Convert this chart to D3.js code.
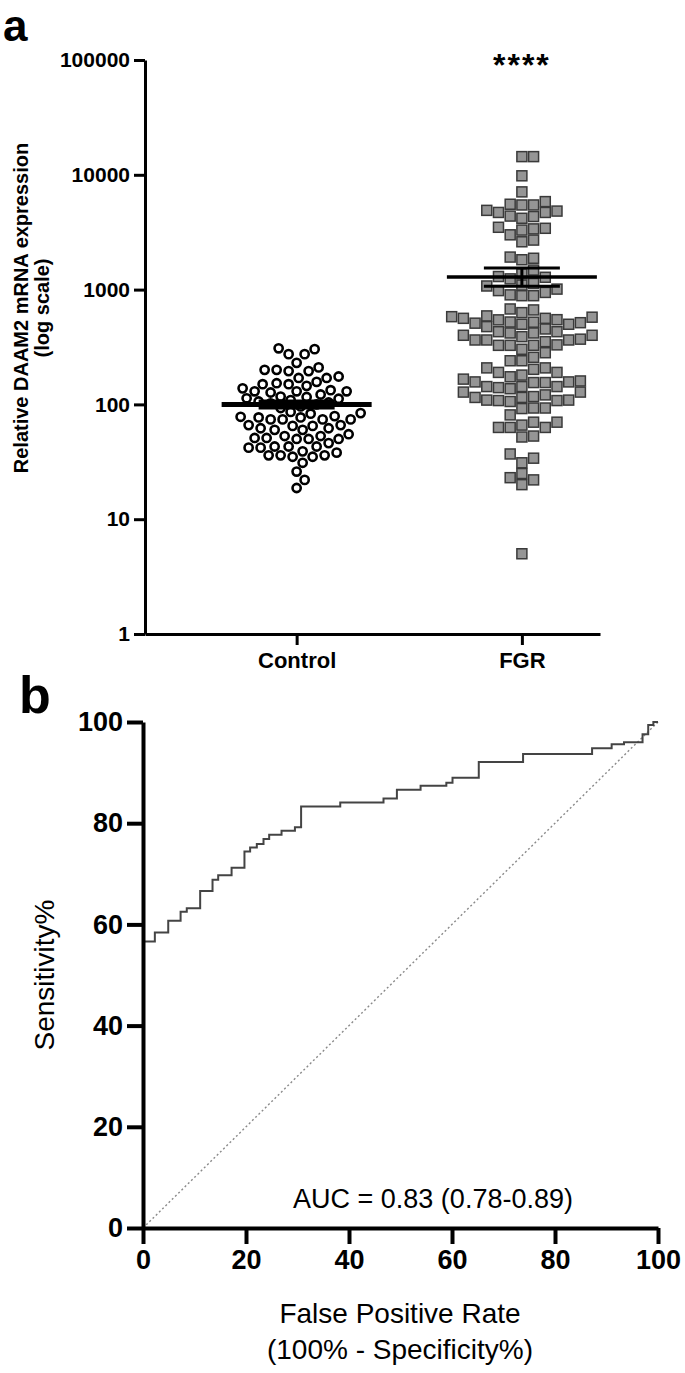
<!DOCTYPE html>
<html>
<head>
<meta charset="utf-8">
<script src="https://cdn.jsdelivr.net/npm/d3@7"></script>
<style>
  body { margin: 0; background: #fff; }
  svg { display: block; font-family: 'Liberation Sans', Arial, sans-serif; }
  .axis path, .axis line { stroke: #000; }
</style>
</head>
<body>
<script>
// ---- panel a data: relative DAAM2 expression
const groups = ['Control', 'FGR']
const logTicks = [1, 10, 100, 1000, 10000, 100000]

const controlValues = [
  308, 303, 274, 274, 230, 210, 195, 195, 200, 200,
  157, 153, 150, 170, 170, 175, 150, 145, 138, 130,
  133, 130, 130, 127, 122, 117, 112, 109, 104,
  113, 106, 116, 100, 96, 102, 93,
  84, 86, 78, 74, 74, 79, 83, 77, 74, 74, 77,
  65, 66, 60, 62, 66, 65, 60, 62,
  53, 53, 51, 50, 51, 50, 55, 50,
  43, 42, 43, 43, 42, 46, 39,
  35, 36, 31, 35, 36, 36, 38,
  26, 22, 18.7
]

const fgrValues = [
  14400, 14400, 9800, 7100,
  4830, 5460, 5460, 5540, 5840, 4700, 4900,
  4330, 4180, 4370, 4700,
  3420, 3000, 3380, 3300, 3490, 2700, 2610,
  1875, 1820, 1920, 1480, 1370, 1280, 1240, 1300,
  1075, 1095, 1130, 1010, 885, 885, 945, 900, 980,
  581, 678, 510, 499, 522, 547, 665, 520, 590, 575, 515, 630, 499, 562, 545, 562,
  419, 352, 400, 364, 430, 364, 476, 364, 454, 370, 430, 327, 400, 327, 389, 419, 330, 327,
  302, 282, 240, 208, 240, 257, 208, 202, 190, 180, 190,
  157, 157, 174, 160, 137, 155, 166, 143, 143, 143, 155, 128,
  128, 109, 140, 109, 106, 108, 92, 115, 93, 121, 115, 93, 108, 117, 81,
  63, 66, 70, 63, 63, 70, 52, 53,
  34, 37, 31, 23, 25, 20, 22, 5
]

// mean and SEM (low, high) per group
const groupMeans = [100, 1290]
const groupSem = [[93, 107], [1070, 1540]]

// ---- panel b data: ROC curve corners (step after)
const fpr = [0, 0, 2.3, 4.9, 7.3, 8.5, 11.1, 13.5, 14.6, 17.2, 19.7, 20.8, 22.1, 23.4, 24.5, 26.9, 29.5, 30.7,
  38.3, 46.7, 49.3, 53.9, 58.9, 60.1, 65.2, 73.8, 87.2, 91.0, 93.4, 97.0, 98.1, 99.1, 100]
const sensitivity = [0, 56.6, 58.4, 60.7, 62.5, 63.2, 66.6, 68.8, 69.7, 71.2, 74.4, 75.2, 75.9, 76.9, 77.7, 78.5, 79.2, 83.3,
  84.1, 84.9, 86.6, 87.4, 88.0, 89.0, 92.1, 93.7, 94.8, 95.6, 96.0, 97.6, 99.4, 100, 100]
const rocTicks = [0, 20, 40, 60, 80, 100]

const svg = d3.select('body').append('svg')
  .attr('width', 685)
  .attr('height', 1373)

// Spread points sideways so they don't sit on top of each other
function swarm(values, cx, y, step, size, round) {
  const placed = []
  const items = values.map(v => ({ v, y: y(v) })).sort((a, b) => a.v - b.v)
  items.forEach(p => {
    for (let k = 0; k < 400; k++) {
      const dx = k === 0 ? 0 : (k % 2 ? 1 : -1) * Math.ceil(k / 2) * step
      const hit = placed.some(q => round
        ? Math.hypot(q.dx - dx, q.y - p.y) < size
        : Math.abs(q.dx - dx) < size && Math.abs(q.y - p.y) < size)
      if (!hit) { p.dx = dx; break }
    }
    placed.push(p)
  })
  return items.map(p => ({ v: p.v, y: p.y, x: cx + p.dx }))
}

function drawPanelA() {
  const yScale = d3.scaleLog().domain([1, 100000]).range([634, 60])
  const xScale = d3.scalePoint().domain(groups).range([145, 600]).padding(0.51).align(0.66)

  // panel letter
  svg.append('text')
    .attr('x', 3).attr('y', 41)
    .style('font-size', '44px').style('font-weight', 'bold')
    .text('a')

  // Y axis
  const yAxis = svg.append('g')
    .attr('class', 'axis')
    .attr('transform', 'translate(145,0)')
    .call(d3.axisLeft(yScale).tickValues(logTicks).tickFormat(d3.format('d')).tickSize(11).tickSizeOuter(0).tickPadding(4))
  yAxis.select('.domain').attr('stroke-width', 3)
  yAxis.selectAll('.tick line').attr('stroke-width', 3)
  yAxis.selectAll('.tick text')
    .style('font-size', '21px').style('font-weight', 'bold').attr('fill', '#000')

  // X axis
  const xAxis = svg.append('g')
    .attr('class', 'axis')
    .attr('transform', 'translate(0,634)')
    .call(d3.axisBottom(xScale).tickSize(11).tickSizeOuter(0).tickPadding(7))
  xAxis.select('.domain').attr('stroke-width', 3)
  xAxis.selectAll('.tick line').attr('stroke-width', 3)
  xAxis.selectAll('.tick text')
    .style('font-size', '22px').style('font-weight', 'bold').attr('fill', '#000')

  // Y title
  const title = svg.append('text')
    .attr('transform', 'translate(0,308) rotate(-90)')
    .attr('text-anchor', 'middle')
    .style('font-size', '20px').style('font-weight', 'bold')
  title.append('tspan').attr('x', 0).attr('y', 28).text('Relative DAAM2 mRNA expression')
  title.append('tspan').attr('x', 0).attr('y', 49).text('(log scale)')

  // Control: open circles
  const ctrl = swarm(controlValues, xScale('Control'), yScale, 2, 10.6, true)
  svg.append('g').selectAll('circle')
    .data(ctrl)
    .join('circle')
    .attr('cx', d => d.x)
    .attr('cy', d => d.y)
    .attr('r', 4.1)
    .attr('fill', 'none')
    .attr('stroke', '#000')
    .attr('stroke-width', 2.6)

  // FGR: grey squares
  const fgr = swarm(fgrValues, xScale('FGR'), yScale, 11.7, 10.6, false)
  svg.append('g').selectAll('rect')
    .data(fgr)
    .join('rect')
    .attr('x', d => d.x - 5)
    .attr('y', d => d.y - 5)
    .attr('width', 10)
    .attr('height', 10)
    .attr('fill', '#959595')
    .attr('stroke', '#3a3a3a')
    .attr('stroke-width', 1.5)

  // mean and SEM bars
  groups.forEach((g, i) => {
    const cx = xScale(g)
    const bars = svg.append('g').attr('stroke', '#000')
    bars.append('line')
      .attr('x1', cx).attr('x2', cx)
      .attr('y1', yScale(groupSem[i][0])).attr('y2', yScale(groupSem[i][1]))
      .attr('stroke-width', 3)
    groupSem[i].forEach(v => {
      bars.append('line')
        .attr('x1', cx - 38).attr('x2', cx + 38)
        .attr('y1', yScale(v)).attr('y2', yScale(v))
        .attr('stroke-width', 3)
    })
    bars.append('line')
      .attr('x1', cx - 75).attr('x2', cx + 75)
      .attr('y1', yScale(groupMeans[i])).attr('y2', yScale(groupMeans[i]))
      .attr('stroke-width', i === 0 ? 5 : 3.5)
  })

  // significance stars
  svg.append('text')
    .attr('x', xScale('FGR'))
    .attr('y', 76)
    .attr('text-anchor', 'middle')
    .style('font-size', '32px').style('font-weight', 'bold').style('letter-spacing', '2px')
    .text('****')
}

function drawPanelB() {
  const xScale = d3.scaleLinear().domain([0, 100]).range([143, 658])
  const yScale = d3.scaleLinear().domain([0, 100]).range([1228, 722])

  svg.append('text')
    .attr('x', 19).attr('y', 713)
    .style('font-size', '52px').style('font-weight', 'bold')
    .text('b')

  // chance diagonal
  svg.append('line')
    .attr('x1', xScale(0)).attr('y1', yScale(0))
    .attr('x2', xScale(100)).attr('y2', yScale(100))
    .attr('stroke', '#8a8a8a')
    .attr('stroke-width', 1.4)
    .attr('stroke-dasharray', '2,2.5')

  // ROC curve
  const line = d3.line()
    .x((d, i) => xScale(fpr[i]))
    .y(d => yScale(d))
    .curve(d3.curveStepAfter)
  svg.append('path')
    .datum(sensitivity)
    .attr('d', line)
    .attr('fill', 'none')
    .attr('stroke', '#444')
    .attr('stroke-width', 2)

  // axes
  const yAxis = svg.append('g')
    .attr('class', 'axis')
    .attr('transform', 'translate(143,0)')
    .call(d3.axisLeft(yScale).tickValues(rocTicks).tickSize(16).tickSizeOuter(0).tickPadding(4))
  const xAxis = svg.append('g')
    .attr('class', 'axis')
    .attr('transform', 'translate(0,1228)')
    .call(d3.axisBottom(xScale).tickValues(rocTicks).tickSize(16).tickSizeOuter(0).tickPadding(6))
  ;[xAxis, yAxis].forEach(ax => {
    ax.select('.domain').attr('stroke-width', 4)
    ax.selectAll('.tick line').attr('stroke-width', 4)
    ax.selectAll('.tick text')
      .style('font-size', '27px').style('font-weight', 'bold').attr('fill', '#000')
  })

  svg.append('text')
    .attr('transform', 'translate(54,975) rotate(-90)')
    .attr('text-anchor', 'middle')
    .style('font-size', '28px')
    .text('Sensitivity%')

  const xTitle = svg.append('text')
    .attr('text-anchor', 'middle')
    .style('font-size', '28px')
  xTitle.append('tspan').attr('x', 400).attr('y', 1323).text('False Positive Rate')
  xTitle.append('tspan').attr('x', 400).attr('y', 1359).text('(100% - Specificity%)')

  svg.append('text')
    .attr('x', 433).attr('y', 1208)
    .attr('text-anchor', 'middle')
    .style('font-size', '27px')
    .text('AUC = 0.83 (0.78-0.89)')
}

drawPanelA()
drawPanelB()
</script>
</body>
</html>
